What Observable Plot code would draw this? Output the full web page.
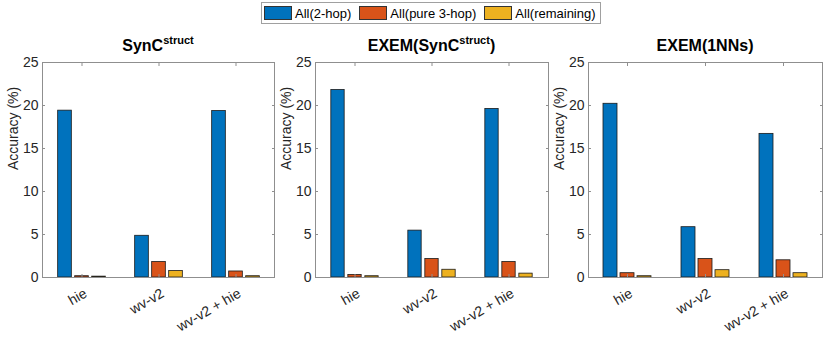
<!DOCTYPE html>
<html><head><meta charset="utf-8">
<script src="https://cdn.jsdelivr.net/npm/d3@7"></script>
<script src="https://cdn.jsdelivr.net/npm/@observablehq/plot@0.6"></script>
<style>
body{margin:0;background:#fff;}
#wrap{position:relative;width:830px;height:346px;font-family:"Liberation Sans",Arial,Helvetica,sans-serif;color:#262626;overflow:hidden;background:#fff}
.panel{position:absolute;top:30px;}
.panel svg{background:transparent;overflow:visible}
.title{position:absolute;top:36px;font-weight:bold;font-size:16px;white-space:nowrap;transform:translateX(-50%);color:#000;line-height:20px}
.title sup{font-size:11px;vertical-align:7px;line-height:0}
#legend{position:absolute;left:261px;top:2px;height:20px;border:1px solid #a0a0a0;display:flex;align-items:center;font-size:13px;color:#000;padding:0 4px 0 2px;background:#fff}
#legend .sw{width:28px;height:14px;border:1px solid #333;margin-right:3px;box-sizing:border-box}
#legend .it{display:flex;align-items:center;margin-right:8px}
#legend .it:last-child{margin-right:0}
</style>
</head><body>
<div id="wrap"></div>
<script>
const categories = ["hie", "wv-v2", "wv-v2 + hie"];
const seriesNames = ["All(2-hop)", "All(pure 3-hop)", "All(remaining)"];
const seriesColors = ["#0072BD", "#D95319", "#EDB120"];
const yTicks = [0, 5, 10, 15, 20, 25];
const titlesHtml = ["SynC<sup>struct</sup>", "EXEM(SynC<sup>struct</sup>)", "EXEM(1NNs)"];
// values[category][series]
const syncStruct = [[19.4, 0.15, 0.1], [4.85, 1.8, 0.75], [19.35, 0.7, 0.15]];
const exemSyncStruct = [[21.8, 0.3, 0.15], [5.45, 2.15, 0.9], [19.6, 1.8, 0.45]];
const exem1NNs = [[20.2, 0.5, 0.15], [5.85, 2.15, 0.85], [16.7, 2.0, 0.5]];

const panelValues = [syncStruct, exemSyncStruct, exem1NNs];
const layout = [
  {left: 0, ml: 42, mr: 6},
  {left: 276, ml: 39, mr: 8},
  {left: 549, ml: 39, mr: 7}
];
const W = 280, H = 316, MT = 32, MB = 69;

const wrap = document.getElementById("wrap");

// legend
const leg = document.createElement("div");
leg.id = "legend";
seriesNames.forEach((s, i) => {
  const it = document.createElement("div"); it.className = "it";
  const sw = document.createElement("div"); sw.className = "sw"; sw.style.background = seriesColors[i];
  const tx = document.createElement("span"); tx.textContent = s;
  it.appendChild(sw); it.appendChild(tx); leg.appendChild(it);
});
wrap.appendChild(leg);

panelValues.forEach((vals, p) => {
  const L = layout[p];
  const rows = [];
  categories.forEach((c, ci) => seriesNames.forEach((s, si) => rows.push({cat: c, series: s, si, value: vals[ci][si]})));
  const bw = (W - L.ml - L.mr) / categories.length;
  const barW = 14, step = 17;
  const inset = (bw - barW) / 2;
  const barMarks = seriesNames.map((s, si) => Plot.barY(rows.filter(r => r.si === si), {
    x: "cat", y: "value", fill: "series", stroke: "#1a1a1a", strokeWidth: 0.8,
    dx: (si - 1) * step, insetLeft: inset, insetRight: inset
  }));
  const chart = Plot.plot({
    width: W, height: H,
    marginLeft: L.ml, marginRight: L.mr, marginTop: MT, marginBottom: MB,
    style: {fontFamily: '"Liberation Sans", Arial, sans-serif', color: "#262626", background: "transparent"},
    x: {type: "band", domain: categories, padding: 0},
    y: {domain: [0, 25]},
    color: {domain: seriesNames, range: seriesColors},
    marks: [
      ...barMarks,
      Plot.frame({stroke: "#8f8f8f", strokeWidth: 1}),
      Plot.axisY(yTicks, {anchor: "left", tickSize: 3, dx: 3, fill: "none", stroke: "#8f8f8f"}),
      Plot.axisY(yTicks, {anchor: "right", tickSize: 3, dx: -3, fill: "none", stroke: "#8f8f8f"}),
      Plot.axisX({anchor: "top", tickSize: 3, dy: 3, fill: "none", stroke: "#8f8f8f"}),
      Plot.axisX({anchor: "bottom", tickSize: 3, dy: -3, fill: "none", stroke: "#8f8f8f"}),
      Plot.axisY(yTicks, {anchor: "left", tickSize: 0, tickPadding: 4, fontSize: 14, label: null, fill: "#262626"}),
      Plot.axisX({anchor: "bottom", tickSize: 0, tickPadding: 10, tickRotate: -30, textAnchor: "end", lineAnchor: "top", dx: 1, fontSize: 14, label: null, fill: "#262626"}),
      Plot.text(["Accuracy (%)"], {frameAnchor: "left", rotate: -90, dx: -29, fontSize: 14, fill: "#262626"})
    ]
  });
  const div = document.createElement("div");
  div.className = "panel";
  div.style.left = L.left + "px";
  div.appendChild(chart);
  wrap.appendChild(div);

  const t = document.createElement("div");
  t.className = "title";
  t.innerHTML = titlesHtml[p];
  t.style.left = (L.left + L.ml + (W - L.ml - L.mr) / 2) + "px";
  wrap.appendChild(t);
});
</script>
</body></html>
